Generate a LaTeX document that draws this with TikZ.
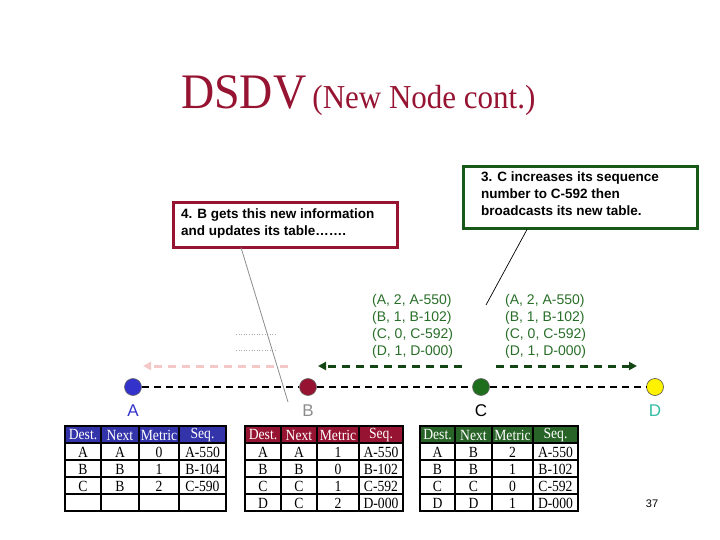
\documentclass[tikz,border=0pt]{standalone}
\usepackage{fontspec}
\setmainfont{Liberation Serif}
\setsansfont{Liberation Sans}
\usetikzlibrary{arrows.meta}
\definecolor{maroon}{RGB}{150,20,50}
\definecolor{ablue}{RGB}{51,51,204}
\definecolor{thblue}{RGB}{51,51,170}
\definecolor{cgreen}{RGB}{30,110,30}
\definecolor{thgreen}{RGB}{40,100,40}
\definecolor{txgreen}{RGB}{40,110,40}
\definecolor{agreen}{RGB}{20,70,20}
\definecolor{apink}{RGB}{245,200,200}
\definecolor{dteal}{RGB}{50,190,165}
\definecolor{bgray}{RGB}{140,140,140}
\tikzset{
  ndot/.style={circle,draw=black!60,line width=0.6pt,minimum size=17pt,inner sep=0pt},
  nlabel/.style={font=\sffamily\fontsize{17}{17}\selectfont},
  netline/.style={line width=2.8pt,dash pattern=on 7pt off 5pt},
  bcast/.style={line width=3pt,dash pattern=on 8pt off 6pt,-{Triangle[length=8pt,width=8pt]}},
  callout/.style={line width=3pt,fill=white,inner sep=0pt,minimum height=#1},
  calltext/.style={font=\sffamily\bfseries\fontsize{13.5}{17}\selectfont,align=left,anchor=north west,inner sep=0pt},
  rt/.style={font=\sffamily\fontsize{14}{17}\selectfont,text=txgreen,align=left,inner sep=0pt},
  cell/.style={font=\fontsize{15.5}{15.5}\selectfont,inner sep=0pt,xscale=0.88,transform shape},
  hcell/.style={cell,text=white},
}
% \dtab{x0}{x1}{x2}{x3}{x4}{headercolor}{prefix}
\newcommand\dtab[7]{%
  \fill[#6] (#1,426) rectangle (#5,443);
  \foreach \yy in {443,460,477,494} {\draw[line width=1.2pt] (#1,\yy) -- (#5,\yy);}
  \foreach \xx in {#2,#3,#4} {\draw[line width=1.2pt] (\xx,426) -- (\xx,511);}
  \draw[line width=2pt] (#1,426) rectangle (#5,511);
  \node[hcell] (#7h1) at ({(#1+#2)/2},435) {Dest.};
  \node[hcell] (#7h2) at ({(#2+#3)/2},435) {Next};
  \node[hcell] (#7h3) at ({(#3+#4)/2},435) {Metric};
  \node[hcell] (#7h4) at ({(#4+#5)/2},435) {Seq.};
}
\newcommand\drow[9]{%
  \node[cell] at ({(#1+#2)/2},#6) {#7};
  \node[cell] at ({(#2+#3)/2},#6) {#8};
  \node[cell] at ({(#3+#4)/2},#6) {#9};
}
\begin{document}
\begin{tikzpicture}[x=1pt,y=-1pt]
\useasboundingbox (0,0) rectangle (720,540);

% title
\node[anchor=base west,inner sep=0pt,text=maroon,yscale=1.08] (title) at (181,109)
  {\fontsize{46}{46}\selectfont DSDV\hspace{6pt}\fontsize{31}{31}\selectfont(New Node cont.)};

% callout boxes
\node[draw=maroon,callout=44pt,minimum width=224pt] (box4) at (285,225) {};
\node[calltext] (t4) at (181,209) {4. B gets this new information\\and updates its table…….};
\node[draw=cgreen!80!black,callout=62pt,minimum width=234pt] (box3) at (580,198) {};
\node[calltext] (t3) at (481,172) {3. C increases its sequence\\number to C-592 then\\broadcasts its new table.};

% route update texts
\node[rt,anchor=north west] (u1) at (372,294) {(A, 2, A-550)\\(B, 1, B-102)\\(C, 0, C-592)\\(D, 1, D-000)};
\node[rt,anchor=north west] (u2) at (505,294) {(A, 2, A-550)\\(B, 1, B-102)\\(C, 0, C-592)\\(D, 1, D-000)};

% faint dotted lines
\coordinate (d1a) at (236,334); \coordinate (d1b) at (277,334);
\coordinate (d2a) at (236,350); \coordinate (d2b) at (277,350);
\draw[bgray!70,dotted,line width=0.6pt] (d1a) -- (d1b);
\draw[bgray!70,dotted,line width=0.6pt] (d2a) -- (d2b);

% broadcast arrows
\coordinate (p1) at (288,366); \coordinate (p2) at (143,366);
\coordinate (g1) at (462,366); \coordinate (g2) at (318,366);
\coordinate (g3) at (496,366); \coordinate (g4) at (637,366);
\draw[bcast,apink] (p1) -- (p2);
\draw[bcast,agreen] (g1) -- (g2);
\draw[bcast,agreen] (g3) -- (g4);

% network nodes
\node[ndot,fill=ablue] (A) at (133,387) {};
\node[ndot,fill=maroon] (B) at (308,387) {};
\node[ndot,fill=cgreen] (C) at (481,387) {};
\node[ndot,fill=yellow,draw=black!70] (D) at (655,387) {};
\draw[netline] (A) -- (B);
\draw[netline] (B) -- (C);
\draw[netline] (C) -- (D);

% callout pointers
\coordinate (c4) at (288,402);
\draw[bgray,line width=0.8pt] (241,247.5) -- (c4);
\coordinate (c3) at (486,305);
\draw[black,line width=0.7pt] (527,229.5) -- (c3);

\node[nlabel,text=ablue] (la) at (133,411) {A};
\node[nlabel,text=bgray] (lb) at (308,411) {B};
\node[nlabel,text=black] (lc) at (481,411) {C};
\node[nlabel,text=dteal] (ld) at (655,411) {D};

% tables
\dtab{65}{101}{139}{179}{226}{thblue}{ta}
\drow{65}{101}{139}{179}{226}{452}{A}{A}{0}
\drow{65}{101}{139}{179}{226}{469}{B}{B}{1}
\drow{65}{101}{139}{179}{226}{486}{C}{B}{2}
\node[cell] at (202.5,452) {A-550};
\node[cell] at (202.5,469) {B-104};
\node[cell] at (202.5,486) {C-590};

\dtab{245}{281}{317}{359}{403}{maroon}{tb}
\drow{245}{281}{317}{359}{403}{452}{A}{A}{1}
\drow{245}{281}{317}{359}{403}{469}{B}{B}{0}
\drow{245}{281}{317}{359}{403}{486}{C}{C}{1}
\drow{245}{281}{317}{359}{403}{503}{D}{C}{2}
\node[cell] at (381,452) {A-550};
\node[cell] at (381,469) {B-102};
\node[cell] at (381,486) {C-592};
\node[cell] at (381,503) {D-000};

\dtab{420}{455}{492}{533}{578}{thgreen}{tc}
\drow{420}{455}{492}{533}{578}{452}{A}{B}{2}
\drow{420}{455}{492}{533}{578}{469}{B}{B}{1}
\drow{420}{455}{492}{533}{578}{486}{C}{C}{0}
\drow{420}{455}{492}{533}{578}{503}{D}{D}{1}
\node[cell] at (555.5,452) {A-550};
\node[cell] at (555.5,469) {B-102};
\node[cell] at (555.5,486) {C-592};
\node[cell] at (555.5,503) {D-000};

\node[font=\sffamily\fontsize{11}{11}\selectfont,inner sep=0pt] (pg) at (652,504) {37};
\end{tikzpicture}
\end{document}
